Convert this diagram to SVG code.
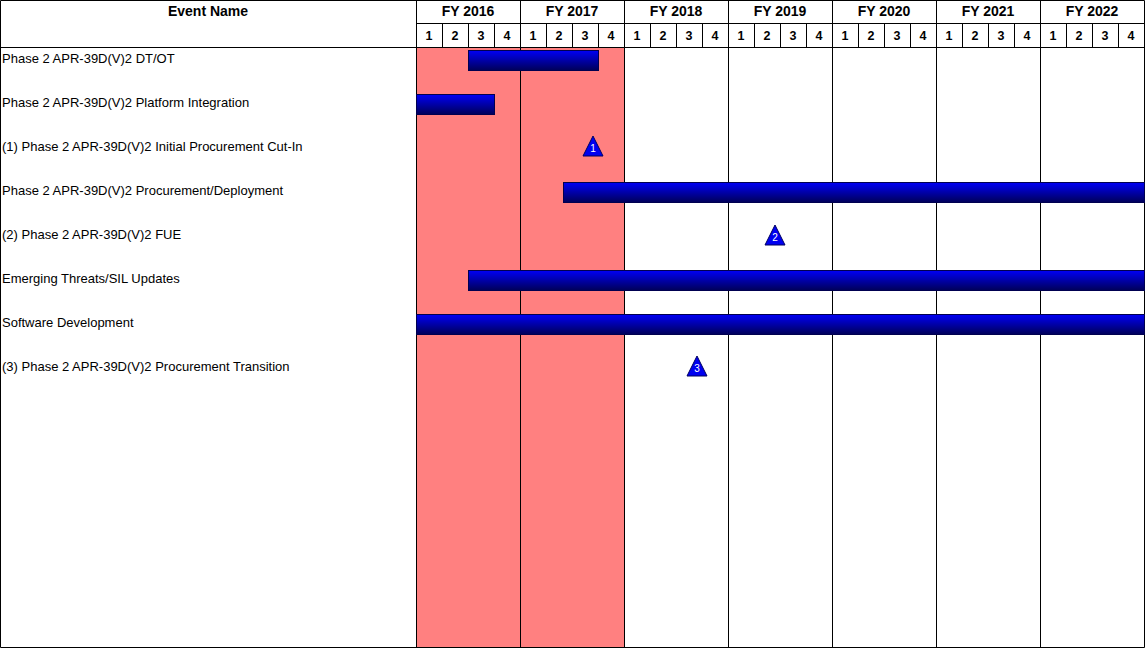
<svg xmlns="http://www.w3.org/2000/svg" width="1145" height="650" viewBox="0 0 1145 650">
<style>
.hd{font-family:"Liberation Sans",Arial,sans-serif;font-size:14px;font-weight:bold;fill:#000;text-anchor:middle}
.q{font-family:"Liberation Sans",Arial,sans-serif;font-size:12.5px;font-weight:bold;fill:#000;text-anchor:middle}
.lbl{font-family:"Liberation Sans",Arial,sans-serif;font-size:13px;fill:#000}
.ln{stroke:#000;stroke-width:1;fill:none}
.bar{fill:url(#g);stroke:#000050;stroke-width:1}
.tri{fill:#0000F0;stroke:#000060;stroke-width:1}
.tn{font-family:"Liberation Sans",Arial,sans-serif;font-size:10px;fill:#fff;text-anchor:middle}
</style>
<defs>
<linearGradient id="g" x1="0" y1="0" x2="0" y2="1">
<stop offset="0" stop-color="#0000F5"/>
<stop offset="1" stop-color="#000058"/>
</linearGradient>
</defs>
<rect x="0" y="0" width="1145" height="650" fill="#fff"/>
<rect x="416" y="48" width="208" height="600" fill="#FF8080"/>
<g id="grid">
<path class="ln" d="M0.5 0.5H1144.5V647.5H0.5Z M0.5 47.5H1144.5 M416.5 23.5H1144.5 M416.5 0V648 M520.5 0V648 M624.5 0V648 M728.5 0V648 M832.5 0V648 M936.5 0V648 M1040.5 0V648"/>
<path class="ln" d="M442.5 23V47 M468.5 23V47 M494.5 23V47 M546.5 23V47 M572.5 23V47 M598.5 23V47 M650.5 23V47 M676.5 23V47 M702.5 23V47 M754.5 23V47 M780.5 23V47 M806.5 23V47 M858.5 23V47 M884.5 23V47 M910.5 23V47 M962.5 23V47 M988.5 23V47 M1014.5 23V47 M1066.5 23V47 M1092.5 23V47 M1118.5 23V47"/>
</g>
<g id="header">
<text class="hd" x="208" y="16">Event Name</text>
<text class="hd" x="468" y="16">FY 2016</text>
<text class="hd" x="572" y="16">FY 2017</text>
<text class="hd" x="676" y="16">FY 2018</text>
<text class="hd" x="780" y="16">FY 2019</text>
<text class="hd" x="884" y="16">FY 2020</text>
<text class="hd" x="988" y="16">FY 2021</text>
<text class="hd" x="1092" y="16">FY 2022</text>
<g class="q">
<text x="429" y="40">1</text><text x="455" y="40">2</text><text x="481" y="40">3</text><text x="507" y="40">4</text>
<text x="533" y="40">1</text><text x="559" y="40">2</text><text x="585" y="40">3</text><text x="611" y="40">4</text>
<text x="637" y="40">1</text><text x="663" y="40">2</text><text x="689" y="40">3</text><text x="715" y="40">4</text>
<text x="741" y="40">1</text><text x="767" y="40">2</text><text x="793" y="40">3</text><text x="819" y="40">4</text>
<text x="845" y="40">1</text><text x="871" y="40">2</text><text x="897" y="40">3</text><text x="923" y="40">4</text>
<text x="949" y="40">1</text><text x="975" y="40">2</text><text x="1001" y="40">3</text><text x="1027" y="40">4</text>
<text x="1053" y="40">1</text><text x="1079" y="40">2</text><text x="1105" y="40">3</text><text x="1131" y="40">4</text>
</g>
</g>
<g id="labels">
<text class="lbl" x="2" y="63">Phase 2 APR-39D(V)2 DT/OT</text>
<text class="lbl" x="2" y="107">Phase 2 APR-39D(V)2 Platform Integration</text>
<text class="lbl" x="2" y="151">(1) Phase 2 APR-39D(V)2 Initial Procurement Cut-In</text>
<text class="lbl" x="2" y="195">Phase 2 APR-39D(V)2 Procurement/Deployment</text>
<text class="lbl" x="2" y="239">(2) Phase 2 APR-39D(V)2 FUE</text>
<text class="lbl" x="2" y="283">Emerging Threats/SIL Updates</text>
<text class="lbl" x="2" y="327">Software Development</text>
<text class="lbl" x="2" y="371">(3) Phase 2 APR-39D(V)2 Procurement Transition</text>
</g>
<g id="bar1"><rect class="bar" x="468.5" y="50.5" width="130" height="20"/></g>
<g id="bar2"><rect class="bar" x="416.5" y="94.5" width="78" height="20"/></g>
<g id="ms1"><polygon class="tri" points="593,136 603,156 583,156"/><text class="tn" x="593" y="152">1</text></g>
<g id="bar4"><rect class="bar" x="563.5" y="182.5" width="581" height="20"/></g>
<g id="ms2"><polygon class="tri" points="775,225 785,245 765,245"/><text class="tn" x="775" y="241">2</text></g>
<g id="bar6"><rect class="bar" x="468.5" y="270.5" width="676" height="20"/></g>
<g id="bar7"><rect class="bar" x="416.5" y="314.5" width="728" height="20"/></g>
<g id="ms3"><polygon class="tri" points="697,356 707,376 687,376"/><text class="tn" x="697" y="372">3</text></g>
<g id="connectors"></g>
</svg>
